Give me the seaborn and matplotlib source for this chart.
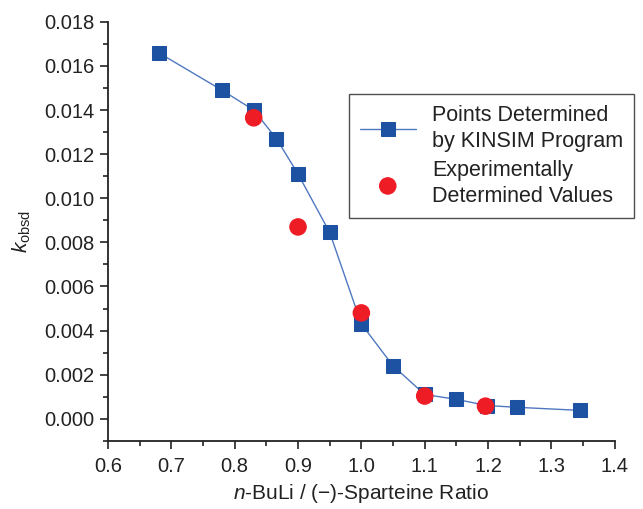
import matplotlib
matplotlib.use("Agg")
import matplotlib.pyplot as plt
import seaborn as sns
import pandas as pd
from matplotlib.ticker import MultipleLocator, FormatStrFormatter

# Data
kinsim_ratio = [0.68, 0.78, 0.83, 0.866, 0.90, 0.95, 1.00, 1.05, 1.10, 1.15, 1.198, 1.245, 1.345]
kinsim_k = [0.0166, 0.0149, 0.0140, 0.0127, 0.0111, 0.00845, 0.0043, 0.0024, 0.0011, 0.00088, 0.0006, 0.00052, 0.00038]
exp_ratio = [0.83, 0.90, 1.00, 1.10, 1.196]
exp_k = [0.01365, 0.0087, 0.0048, 0.00103, 0.00057]

label_kinsim = "Points Determined\nby KINSIM Program"
label_exp = "Experimentally\nDetermined Values"

sns.set_style("ticks")
plt.rcParams["font.family"] = ["Liberation Sans", "DejaVu Sans"]
plt.rcParams["mathtext.fontset"] = "custom"
plt.rcParams["mathtext.rm"] = "Liberation Sans"
plt.rcParams["mathtext.it"] = "Liberation Sans:italic"

fig = plt.figure(figsize=(6.43, 5.09), dpi=100)
ax = fig.add_axes([0.168, 0.134, 0.788, 0.823])

df_k = pd.DataFrame({"x": kinsim_ratio, "y": kinsim_k})
df_e = pd.DataFrame({"x": exp_ratio, "y": exp_k})

sns.lineplot(data=df_k, x="x", y="y", ax=ax, color="#4f78c0", linewidth=1.0,
             marker="s", markersize=10, markerfacecolor="#1d52a3",
             markeredgecolor="#1d52a3", label=label_kinsim, zorder=2)
sns.scatterplot(data=df_e, x="x", y="y", ax=ax, color="#ee1c25", s=160,
                edgecolor="none", label=label_exp, zorder=3)

ax.set_xlim(0.6, 1.4)
ax.set_ylim(-0.001, 0.018)
ax.xaxis.set_major_locator(MultipleLocator(0.1))
ax.xaxis.set_minor_locator(MultipleLocator(0.05))
ax.yaxis.set_major_locator(MultipleLocator(0.002))
ax.yaxis.set_minor_locator(MultipleLocator(0.001))
ax.xaxis.set_major_formatter(FormatStrFormatter("%.1f"))
ax.yaxis.set_major_formatter(FormatStrFormatter("%.3f"))
ax.tick_params(axis="both", which="major", direction="out", length=6, width=1.2,
               labelsize=14.5, color="#222222", labelcolor="#222222")
ax.tick_params(axis="x", which="major", pad=6)
ax.tick_params(axis="both", which="minor", direction="out", length=3.5, width=1.2,
               color="#222222")
for s in ("left", "bottom"):
    ax.spines[s].set_linewidth(1.3)
    ax.spines[s].set_color("#222222")
sns.despine(ax=ax)

ax.set_xlabel(r"$n$-BuLi / (−)-Sparteine Ratio", fontsize=15, color="#222222", labelpad=4)
ax.set_ylabel(r"$k_{\mathrm{obsd}}$", fontsize=15, color="#222222", labelpad=8)

leg = ax.legend(loc="upper left", bbox_to_anchor=(349 / 643, 1 - 94 / 509),
                bbox_transform=fig.transFigure, borderaxespad=0,
                fontsize=15.5, frameon=True, fancybox=False, borderpad=0.5,
                handlelength=2.6, handletextpad=0.75, labelspacing=0.4)
leg.get_frame().set_edgecolor("#222222")
leg.get_frame().set_linewidth(1.0)
for t in leg.get_texts():
    t.set_color("#222222")
    t.set_linespacing(1.3)

fig.savefig("out.png", dpi=100)
